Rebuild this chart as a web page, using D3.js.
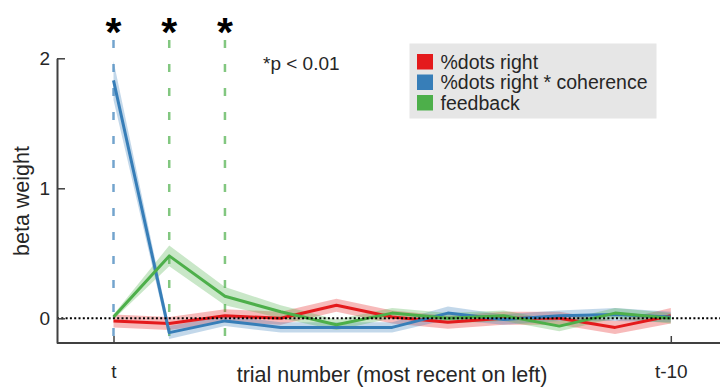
<!DOCTYPE html>
<html lang="en">
<head>
	<meta charset="UTF-8">
	<title>beta weights by trial</title>
	<script src="https://d3js.org/d3.v7.min.js"></script>
	<style>
		body {
			margin: 0;
			background: #fff;
		}
		svg text {
			font-family: "Liberation Sans", Arial, sans-serif;
			fill: #262626;
		}
	</style>
</head>
<body>
<script>
	// trial lags, 0 = t, 10 = t-10
	var trials = [0, 1, 2, 3, 4, 5, 6, 7, 8, 9, 10];
	var tickLabels = ["t", "t-10"];
	var yTicks = [0, 1, 2];

	var seriesNames = ["%dots right", "%dots right * coherence", "feedback"];
	var seriesColors = ["#e41a1c", "#377eb8", "#4daf4a"];

	var redMean = [-0.02, -0.04, 0.02, 0.0, 0.10, 0.01, -0.03, 0.0, 0.0, -0.07, 0.02];
	var redErr = [0.05, 0.05, 0.05, 0.05, 0.05, 0.05, 0.05, 0.05, 0.05, 0.05, 0.06];
	var blueMean = [1.83, -0.11, -0.02, -0.07, -0.07, -0.07, 0.04, -0.01, 0.02, 0.03, 0.01];
	var blueErr = [0.15, 0.05, 0.04, 0.04, 0.04, 0.04, 0.05, 0.04, 0.04, 0.05, 0.04];
	var greenMean = [0.01, 0.48, 0.17, 0.05, -0.05, 0.04, 0.0, 0.02, -0.06, 0.04, 0.0];
	var greenErr = [0.02, 0.08, 0.07, 0.05, 0.04, 0.04, 0.04, 0.04, 0.04, 0.04, 0.04];

	// significant lags (p < 0.01) and which series they belong to
	var sigTrials = [0, 1, 2];
	var sigSeries = [1, 2, 2];

	var width = 720,
		height = 389;

	var x = d3.scaleLinear().domain([0, 10]).range([113.5, 670.8]);
	var y = d3.scaleLinear().domain([-0.19, 2]).range([343, 58.3]);
	var axisX = 57;

	var svg = d3.select("body").append("svg")
		.attr("width", width)
		.attr("height", height);

	var series = [
		{mean: redMean, err: redErr},
		{mean: blueMean, err: blueErr},
		{mean: greenMean, err: greenErr}
	];

	// dashed markers for significant lags
	svg.selectAll(".sig")
		.data(sigTrials)
		.enter().append("line")
		.attr("class", "sig")
		.attr("x1", function (d) { return x(d); })
		.attr("x2", function (d) { return x(d); })
		.attr("y1", 40)
		.attr("y2", y(-0.19))
		.style("stroke", function (d, i) { return seriesColors[sigSeries[i]]; })
		.style("stroke-opacity", 0.7)
		.style("stroke-width", 2.5)
		.style("stroke-dasharray", "8,16");

	svg.selectAll(".star")
		.data(sigTrials)
		.enter().append("text")
		.attr("class", "star")
		.attr("x", function (d) { return x(d); })
		.attr("y", 46)
		.attr("text-anchor", "middle")
		.style("font-size", "41px")
		.style("font-weight", "bold")
		.style("fill", "#000")
		.text("*");

	var area = d3.area()
		.x(function (d, i) { return x(trials[i]); })
		.y0(function (d) { return y(d[0] - d[1]); })
		.y1(function (d) { return y(d[0] + d[1]); });

	var line = d3.line()
		.x(function (d, i) { return x(trials[i]); })
		.y(function (d) { return y(d); });

	// shaded error bands, then the mean lines
	series.forEach(function (s, k) {
		svg.append("path")
			.datum(s.mean.map(function (m, i) { return [m, s.err[i]]; }))
			.attr("d", area)
			.style("fill", seriesColors[k])
			.style("fill-opacity", 0.3)
			.style("stroke", "none");
	});

	series.forEach(function (s, k) {
		svg.append("path")
			.datum(s.mean)
			.attr("d", line)
			.style("fill", "none")
			.style("stroke", seriesColors[k])
			.style("stroke-width", 3)
			.style("stroke-linejoin", "round");
	});

	// zero line
	svg.append("line")
		.attr("x1", axisX)
		.attr("x2", width)
		.attr("y1", y(0))
		.attr("y2", y(0))
		.style("stroke", "#000")
		.style("stroke-width", 2)
		.style("stroke-dasharray", "2,2.3");

	// axes
	var yAxis = d3.axisLeft(y)
		.tickValues(yTicks)
		.tickSizeInner(-8)
		.tickSizeOuter(0)
		.tickPadding(7)
		.tickFormat(d3.format("d"));

	var gy = svg.append("g")
		.attr("transform", "translate(" + axisX + ",0)")
		.call(yAxis);

	var xAxis = d3.axisBottom(x)
		.tickValues([0, 10])
		.tickSizeInner(-7)
		.tickSizeOuter(0)
		.tickPadding(22)
		.tickFormat(function (d, i) { return tickLabels[i]; });

	var gx = svg.append("g")
		.attr("transform", "translate(0," + y(-0.19) + ")")
		.call(xAxis);

	gx.select(".domain").attr("d", "M" + axisX + ",0H" + width);

	[gx, gy].forEach(function (g) {
		g.select(".domain").style("stroke", "#404040").style("stroke-width", 2);
		g.selectAll(".tick line").style("stroke", "#404040").style("stroke-width", 1.5);
		g.selectAll(".tick text").style("font-size", "19px").style("fill", "#262626");
	});

	// axis labels
	svg.append("text")
		.attr("transform", "translate(29,201) rotate(-90)")
		.attr("text-anchor", "middle")
		.style("font-size", "21.5px")
		.text("beta weight");

	svg.append("text")
		.attr("x", 392)
		.attr("y", 382)
		.attr("text-anchor", "middle")
		.style("font-size", "21.5px")
		.text("trial number (most recent on left)");

	svg.append("text")
		.attr("x", 263)
		.attr("y", 70)
		.style("font-size", "19px")
		.text("*p < 0.01");

	// legend
	var legend = svg.append("g");

	legend.append("rect")
		.attr("x", 409.5)
		.attr("y", 43.5)
		.attr("width", 247)
		.attr("height", 75)
		.style("fill", "#e6e6e6");

	var rows = legend.selectAll(".row")
		.data(seriesNames)
		.enter().append("g")
		.attr("class", "row")
		.attr("transform", function (d, i) { return "translate(0," + (i * 20.5) + ")"; });

	rows.append("rect")
		.attr("x", 417)
		.attr("y", 54)
		.attr("width", 16)
		.attr("height", 15.5)
		.style("fill", function (d, i) { return seriesColors[i]; });

	rows.append("text")
		.attr("x", 440.5)
		.attr("y", 68.5)
		.style("font-size", "19.5px")
		.text(function (d) { return d; });
</script>
</body>
</html>
